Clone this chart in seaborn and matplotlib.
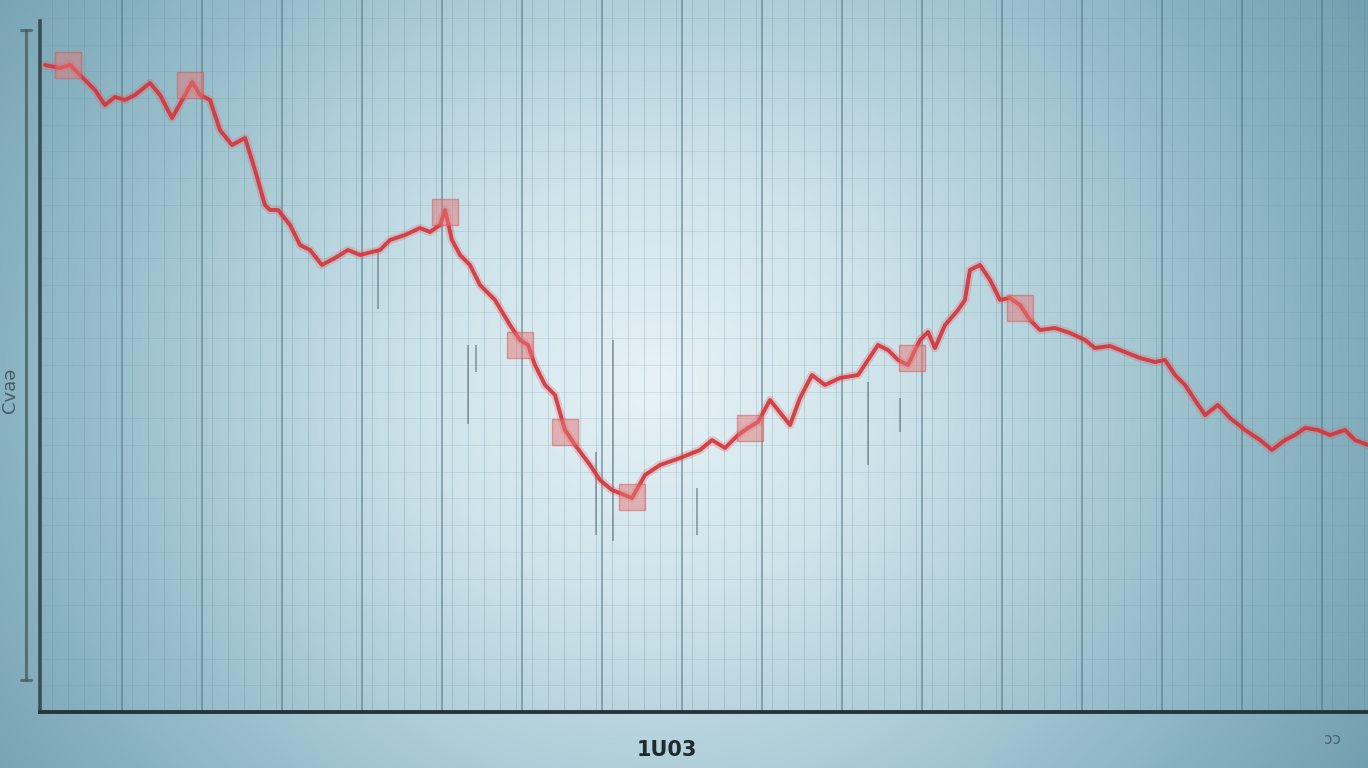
import numpy as np
import pandas as pd
import matplotlib
matplotlib.use("Agg")
import matplotlib.pyplot as plt
from matplotlib.colors import LinearSegmentedColormap
import seaborn as sns

# ---- data ----
line_x = [0.38, 1.51, 2.26, 3.01, 4.14, 4.89, 5.65, 6.40, 7.15, 8.28, 9.04, 9.94, 10.92, 11.45,
          12.05, 12.80, 13.55, 14.46, 15.44, 16.19, 16.94, 17.32, 17.92, 18.83, 19.58, 20.33,
          21.23, 22.21, 23.19, 24.10, 25.60, 26.36, 27.48, 28.61, 29.37, 30.12, 30.50, 31.02,
          31.63, 32.38, 33.13, 34.26, 35.39, 36.14, 36.75, 37.27, 38.03, 38.78, 39.53, 40.29,
          41.42, 42.17, 43.07, 44.58, 45.56, 46.69, 48.19, 49.70, 50.60, 51.58, 52.56, 53.31,
          54.07, 54.97, 55.57, 56.48, 57.23, 58.13, 59.11, 60.24, 61.60, 62.35, 63.10, 63.86,
          64.61, 65.36, 65.89, 66.27, 66.87, 67.39, 68.15, 69.13, 69.65, 70.03, 70.78, 71.54,
          72.29, 73.04, 73.80, 74.55, 75.30, 76.43, 77.56, 78.69, 79.44, 80.57, 81.70, 82.83,
          83.96, 84.71, 85.47, 86.22, 86.97, 87.73, 88.70, 89.61, 90.74, 91.87, 92.77, 93.75,
          94.50, 95.26, 96.23, 97.14, 98.27, 99.02, 100.0]
line_y = [90.87, 90.45, 90.87, 89.47, 87.36, 85.25, 86.38, 85.96, 86.66, 88.34, 86.66, 83.43,
          86.66, 88.48, 86.66, 85.96, 81.74, 79.63, 80.62, 76.12, 71.21, 70.51, 70.51, 68.40,
          65.59, 64.89, 62.78, 63.76, 64.89, 64.19, 64.89, 66.29, 66.99, 67.98, 67.42, 68.40,
          70.51, 66.29, 64.19, 62.78, 59.97, 57.87, 54.35, 52.25, 51.54, 48.74, 45.93, 44.52,
          39.61, 37.50, 34.69, 32.58, 31.18, 30.06, 33.29, 34.69, 35.67, 36.80, 38.20, 37.08,
          38.90, 39.89, 40.73, 43.82, 42.42, 40.31, 44.10, 47.33, 45.93, 46.91, 47.33, 49.44,
          51.54, 50.84, 49.44, 48.74, 50.84, 52.25, 53.37, 51.12, 54.35, 56.46, 57.87, 62.08,
          62.78, 60.67, 57.87, 58.15, 57.16, 55.06, 53.65, 53.93, 53.23, 52.25, 51.12, 51.40,
          50.56, 49.72, 49.16, 49.44, 47.33, 45.93, 43.82, 41.71, 43.12, 41.29, 39.61, 38.20,
          36.80, 38.20, 38.90, 39.89, 39.61, 38.90, 39.61, 38.20, 37.50]

marker_x = [2.11, 11.30, 30.50, 36.14, 39.53, 44.58, 53.46, 65.66, 73.80]
marker_y = [90.87, 88.06, 70.22, 51.54, 39.33, 30.20, 39.89, 49.72, 56.74]

# faint vertical strokes (x, y_low, y_high)
stroke_x = [25.45, 32.23, 32.83, 41.87, 43.15, 49.47, 62.35, 64.76]
stroke_lo = [56.6, 40.4, 47.8, 24.9, 24.0, 24.9, 34.7, 39.3]
stroke_hi = [64.9, 51.5, 51.5, 36.5, 52.2, 31.5, 46.3, 44.1]

x_label = "1U03"
y_label = "Cva\u0259"
corner_text = "\u0254\u0254"

# ---- figure ----
W, H, DPI = 1368, 768, 100
fig = plt.figure(figsize=(W / DPI, H / DPI), dpi=DPI)
sns.set_style("white")

# background gradient
bg = fig.add_axes([0, 0, 1, 1], zorder=0)
yy, xx = np.mgrid[0:1:300j, 0:1:540j]
r = np.sqrt(((xx - 0.48) / 0.6) ** 2 + ((yy - 0.5) / 1.0) ** 2)
cmap = LinearSegmentedColormap.from_list(
    "bgc", ["#e6f2f6", "#cfe4eb", "#aacbd6", "#86b0bf", "#6896a7"])
bg.imshow(np.clip(r, 0, 1.1), cmap=cmap, aspect="auto", extent=[0, 1, 0, 1],
          origin="lower", vmin=0, vmax=1.1)
bg.set_axis_off()

ax = fig.add_axes([40 / W, 56 / H, 1328 / W, 712 / H], zorder=1)
ax.patch.set_alpha(0)
ax.set_xlim(0, 100)
ax.set_ylim(0, 100)

# grid
for gx in np.arange(0.9, 100, 1.205):
    ax.axvline(gx, color="#5f8796", lw=0.6, alpha=0.3, zorder=1)
for gx in np.arange(6.17, 100, 6.024):
    ax.axvline(gx, color="#4f7483", lw=1.4, alpha=0.55, zorder=1)
for gy in np.arange(3.75, 100, 3.75):
    ax.axhline(gy, color="#6d93a1", lw=0.6, alpha=0.22, zorder=1)

# faint strokes
ax.vlines(stroke_x, stroke_lo, stroke_hi, color="#5a6e76", lw=1.3, alpha=0.6, zorder=2)

df = pd.DataFrame({"x": line_x, "y": line_y})
# soft glow under the line
sns.lineplot(data=df, x="x", y="y", ax=ax, color="#e05a5a", lw=6.0, alpha=0.25,
             sort=False, zorder=3)
sns.lineplot(data=df, x="x", y="y", ax=ax, color="#d6333a", lw=2.8, alpha=0.9,
             sort=False, zorder=4)
dm = pd.DataFrame({"x": marker_x, "y": marker_y})
sns.scatterplot(data=dm, x="x", y="y", ax=ax, marker="s", s=330, color="#e57878",
                alpha=0.5, edgecolor="#d85050", linewidth=1.0, zorder=5)

sns.despine(ax=ax, top=True, right=True)
ax.spines["left"].set_color("#3c4d54")
ax.spines["left"].set_linewidth(2.6)
ax.spines["left"].set_bounds(0, 97)
ax.spines["bottom"].set_color("#25353b")
ax.spines["bottom"].set_linewidth(2.8)
ax.set_xticks([])
ax.set_yticks([])
ax.set_xlabel("")
ax.set_ylabel("")

# second outer vertical line on the left
fig.add_artist(plt.Line2D([26 / W, 26 / W], [1 - 30 / H, 1 - 680 / H],
                          color="#4a5e66", lw=2.2, alpha=0.8))
fig.add_artist(plt.Line2D([21 / W, 31 / W], [1 - 30 / H, 1 - 30 / H],
                          color="#4a5e66", lw=2.2, alpha=0.8))
fig.add_artist(plt.Line2D([21 / W, 31 / W], [1 - 680 / H, 1 - 680 / H],
                          color="#4a5e66", lw=2.2, alpha=0.8))

fig.text(667 / W, 1 - 750 / H, x_label, ha="center", va="center", fontsize=15,
         color="#1e2a30", fontweight="bold", family="DejaVu Sans")
fig.text(10 / W, 1 - 390 / H, y_label, ha="center", va="center", fontsize=13,
         color="#36474e", rotation=90, alpha=0.8)
fig.text(1332 / W, 1 - 740 / H, corner_text, ha="center", va="center", fontsize=11,
         color="#36474e", alpha=0.7)

fig.savefig("out.png", dpi=DPI)
